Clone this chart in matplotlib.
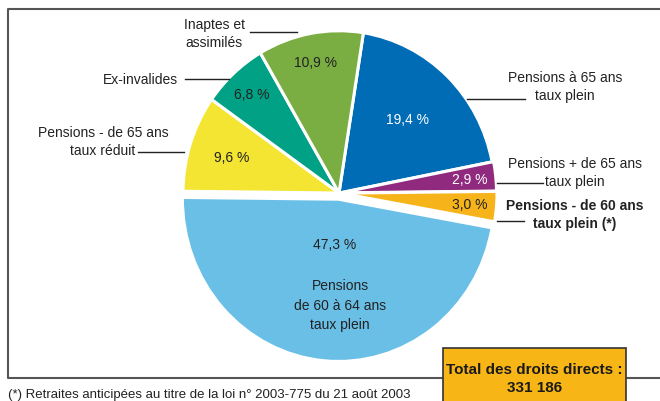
import numpy as np
import matplotlib.pyplot as plt
from matplotlib.patches import Rectangle
from matplotlib.transforms import Affine2D

plt.rcParams['font.family'] = ['Liberation Sans Narrow', 'Liberation Sans', 'DejaVu Sans']

# slices, clockwise from the top
categories = ["Pensions à 65 ans\ntaux plein",
              "Pensions + de 65 ans\ntaux plein",
              "Pensions - de 60 ans\ntaux plein (*)",
              "Pensions\nde 60 à 64 ans\ntaux plein",
              "Pensions - de 65 ans\ntaux réduit",
              "Ex-invalides",
              "Inaptes et\nassimilés"]
values = [19.4, 2.9, 3.0, 47.3, 9.6, 6.8, 10.9]
pct_labels = ["19,4 %", "2,9 %", "3,0 %", "47,3 %", "9,6 %", "6,8 %", "10,9 %"]
colors = ["#006cb5", "#8f2a7e", "#f6b41a", "#6abfe7", "#f3e531", "#00a184", "#7bae42"]
pct_colors = ["white", "white", "#222222", "#222222", "#222222", "#222222", "#222222"]
total_label = "Total des droits directs :\n331 186"
footnote = "(*) Retraites anticipées au titre de la loi n° 2003-775 du 21 août 2003"

H = 402
fig = plt.figure(figsize=(6.6, 4.02), dpi=100)
ax = fig.add_axes([0, 0, 1, 1])

# pie drawn as a circle, then stretched a little vertically
cx, cy, R = 339, H - 194, 156
k = 1.04
explode = [0, 1.5, 2, 6, 0, 0, 0]  # offsets in pixels (pie offsets are absolute)
wedges, _ = ax.pie(values, colors=colors, startangle=81, counterclock=False,
                   center=(cx, cy), radius=R, explode=explode,
                   wedgeprops=dict(edgecolor='white', linewidth=2.2), frame=True)
stretch = Affine2D().translate(-cx, -cy).scale(1, k).translate(cx, cy)
for w in wedges:
    w.set_transform(stretch + ax.transData)

ax.set_xlim(0, 660)
ax.set_ylim(0, H)
ax.set_aspect('equal')
ax.axis('off')

# percentage labels at fractions of the radius
dist = [0.63, 0.83, 0.83, 0.28, 0.72, 0.83, 0.82]
tcol = '#222222'
fs = 10
for w, lab, d, c in zip(wedges, pct_labels, dist, pct_colors):
    ang = np.deg2rad((w.theta1 + w.theta2) / 2)
    x = w.center[0] + d * R * np.cos(ang)
    y = cy + k * (w.center[1] - cy + d * R * np.sin(ang))
    ax.text(x, y, lab, ha='center', va='center', color=c, fontsize=fs)

ax.text(cx + 1, H - 306, categories[3], ha='center', va='center', color=tcol,
        fontsize=fs, linespacing=1.5)

# outside labels with leader lines
def outer(text, x, y, line, bold=False):
    ax.text(x, H - y, text, ha='center', va='center', color=tcol, fontsize=fs,
            linespacing=1.45, fontweight='bold' if bold else 'normal')
    ax.plot([line[0], line[1]], [H - line[2], H - line[2]], color=tcol, lw=1)

outer(categories[6], 214, 34, (250, 297, 33))
outer(categories[5], 140, 80, (185, 229, 80))
outer(categories[4], 103, 142, (138, 184, 153))
outer(categories[0], 565, 87, (467, 525, 100))
outer(categories[1], 575, 173, (497, 543, 184))
outer(categories[2], 575, 215, (497, 524, 222), bold=True)

# frame
ax.plot([668, 8, 8, 668], [H - 10, H - 10, H - 379, H - 379], color='#555555', lw=1.5,
        clip_on=False)

# total box
ax.add_patch(Rectangle((443, H - 410), 183, 61, facecolor='#f8b616',
                       edgecolor='#333333', lw=1.2, clip_on=False, zorder=3))
ax.text(534.5, H - 379, total_label, ha='center', va='center', fontsize=11,
        fontweight='bold', color='#1a1a1a', linespacing=1.35, zorder=4)

ax.text(8, 1, footnote, ha='left', va='bottom', fontsize=9.5, color=tcol)

fig.savefig('out.png', dpi=100)
